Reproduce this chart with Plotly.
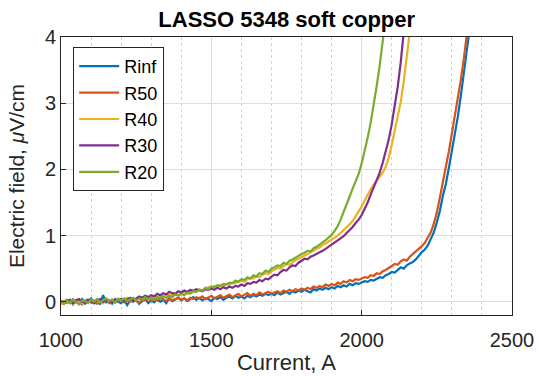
import plotly.graph_objects as go

current = [1000, 1010, 1020, 1030, 1040, 1050, 1060, 1070, 1080, 1090,
           1100, 1110, 1120, 1130, 1140, 1150, 1160, 1170, 1180, 1190,
           1200, 1210, 1220, 1230, 1240, 1250, 1260, 1270, 1280, 1290,
           1300, 1310, 1320, 1330, 1340, 1350, 1360, 1370, 1380, 1390,
           1400, 1410, 1420, 1430, 1440, 1450, 1460, 1470, 1480, 1490,
           1500, 1510, 1520, 1530, 1540, 1550, 1560, 1570, 1580, 1590,
           1600, 1610, 1620, 1630, 1640, 1650, 1660, 1670, 1680, 1690,
           1700, 1710, 1720, 1730, 1740, 1750, 1760, 1770, 1780, 1790,
           1800, 1810, 1820, 1830, 1840, 1850, 1860, 1870, 1880, 1890,
           1900, 1910, 1920, 1930, 1940, 1950, 1960, 1970, 1980, 1990,
           2000, 2010, 2020, 2030, 2040, 2050, 2060, 2070, 2080, 2090,
           2100, 2110, 2120, 2130, 2140, 2150, 2160, 2170, 2180, 2190,
           2200, 2210, 2220, 2230, 2240, 2250, 2260, 2270, 2280, 2290,
           2300, 2310, 2320, 2330, 2340, 2350, 2360]

rinf = [-0.03, 0.01, -0.02, 0.03, -0.04, 0.02, -0.01, 0.04, -0.03, 0.00,
        0.05, -0.02, 0.03, -0.04, 0.10, -0.01, 0.02, -0.03, 0.04, 0.00,
        -0.02, 0.03, -0.05, 0.02, 0.00, 0.04, -0.03, 0.01, 0.05, -0.02,
        0.02, -0.01, 0.04, 0.00, 0.03, -0.02, 0.05, 0.01, 0.03, 0.06,
        0.02, 0.05, 0.01, 0.04, 0.07, 0.03, 0.06, 0.02, 0.05, 0.04,
        0.01, 0.06, 0.04, 0.07, 0.03, 0.06, 0.08, 0.05, 0.09, 0.06,
        0.08, 0.05, 0.09, 0.07, 0.10, 0.08, 0.11, 0.09, 0.12, 0.10,
        0.12, 0.10, 0.14, 0.11, 0.13, 0.15, 0.12, 0.16, 0.14, 0.17,
        0.15, 0.18, 0.16, 0.14, 0.19, 0.17, 0.20, 0.18, 0.21, 0.19,
        0.22, 0.20, 0.24, 0.22, 0.25, 0.23, 0.27, 0.25, 0.28, 0.27,
        0.29, 0.31, 0.30, 0.33, 0.32, 0.35, 0.37, 0.36, 0.40, 0.42,
        0.45, 0.44, 0.48, 0.52, 0.50, 0.55, 0.58, 0.60, 0.64, 0.70,
        0.75, 0.79, 0.85, 0.95, 1.05, 1.20, 1.37, 1.60, 1.78, 2.02,
        2.26, 2.55, 2.80, 3.12, 3.45, 3.80, 4.15]

r50 = [0.02, -0.03, 0.01, -0.02, 0.04, -0.01, 0.00, -0.04, 0.02, 0.03,
       -0.02, 0.01, -0.03, 0.02, 0.00, 0.04, -0.02, 0.03, -0.01, 0.01,
       0.03, -0.01, 0.02, 0.00, 0.04, 0.01, -0.02, 0.03, 0.02, 0.05,
       0.01, 0.04, 0.02, 0.06, 0.03, 0.01, 0.05, 0.02, 0.04, 0.06,
       0.03, 0.05, 0.02, 0.06, 0.04, 0.07, 0.05, 0.08, 0.04, 0.06,
       0.09, 0.05, 0.07, 0.10, 0.06, 0.08, 0.11, 0.07, 0.09, 0.12,
       0.08, 0.10, 0.13, 0.09, 0.12, 0.10, 0.14, 0.11, 0.13, 0.15,
       0.12, 0.14, 0.16, 0.13, 0.17, 0.15, 0.18, 0.16, 0.19, 0.17,
       0.20, 0.18, 0.21, 0.19, 0.23, 0.21, 0.24, 0.22, 0.26, 0.24,
       0.27, 0.25, 0.29, 0.27, 0.31, 0.29, 0.33, 0.31, 0.34, 0.33,
       0.35, 0.37, 0.36, 0.40, 0.39, 0.43, 0.42, 0.46, 0.48, 0.51,
       0.54, 0.57, 0.56, 0.61, 0.64, 0.62, 0.68, 0.72, 0.75, 0.79,
       0.84, 0.89, 0.96, 1.05, 1.18, 1.35, 1.57, 1.78, 2.04, 2.27,
       2.53, 2.80, 3.05, 3.36, 3.68, 4.05]

r40 = [-0.05, 0.02, -0.01, 0.01, -0.03, 0.03, 0.00, -0.02, 0.02, 0.00,
       -0.01, 0.03, 0.00, 0.02, -0.02, 0.04, 0.01, 0.03, 0.00, 0.05,
       0.02, 0.04, 0.06, 0.03, 0.05, 0.02, 0.06, 0.04, 0.08, 0.05,
       0.07, 0.09, 0.06, 0.10, 0.08, 0.12, 0.09, 0.11, 0.13, 0.10,
       0.13, 0.15, 0.12, 0.16, 0.18, 0.15, 0.19, 0.17, 0.20, 0.22,
       0.21, 0.24, 0.22, 0.25, 0.23, 0.27, 0.26, 0.29, 0.28, 0.31,
       0.32, 0.30, 0.34, 0.36, 0.35, 0.39, 0.37, 0.41, 0.43, 0.42,
       0.46, 0.48, 0.51, 0.50, 0.54, 0.57, 0.56, 0.60, 0.63, 0.65,
       0.68, 0.70, 0.72, 0.75, 0.77, 0.80, 0.82, 0.86, 0.88, 0.91,
       0.93, 0.97, 1.00, 1.04, 1.08, 1.12, 1.17, 1.22, 1.29, 1.36,
       1.44, 1.53, 1.62, 1.70, 1.77, 1.83, 1.88, 1.95, 2.04, 2.18,
       2.37, 2.58, 2.78, 3.02, 3.33, 3.68, 4.08]

r30 = [0.01, -0.02, 0.03, 0.00, -0.02, 0.02, 0.04, 0.00, -0.01, 0.03,
       0.01, -0.02, 0.02, 0.04, 0.00, 0.03, 0.01, -0.01, 0.03, 0.02,
       0.04, 0.01, 0.03, 0.06, 0.02, 0.05, 0.08, 0.06, 0.09, 0.07,
       0.10, 0.08, 0.12, 0.10, 0.13, 0.11, 0.15, 0.13, 0.12, 0.16,
       0.14, 0.17, 0.15, 0.18, 0.16, 0.19, 0.17, 0.16, 0.19, 0.18,
       0.20, 0.18, 0.21, 0.19, 0.22, 0.20, 0.23, 0.21, 0.24, 0.23,
       0.26, 0.24, 0.28, 0.27, 0.30, 0.29, 0.33, 0.31, 0.35, 0.34,
       0.38, 0.41, 0.40, 0.45, 0.48, 0.47, 0.52, 0.55, 0.54, 0.59,
       0.62, 0.65, 0.64, 0.68, 0.70, 0.72, 0.74, 0.77, 0.80, 0.83,
       0.86, 0.89, 0.92, 0.96, 0.99, 1.04, 1.08, 1.13, 1.19, 1.24,
       1.31, 1.40, 1.50, 1.62, 1.73, 1.83, 1.95, 2.10, 2.27, 2.45,
       2.68, 2.95, 3.25, 3.62, 4.08]

r20 = [0.00, -0.03, 0.02, -0.02, 0.03, 0.00, -0.04, 0.02, 0.01, -0.02,
       0.03, 0.00, 0.04, -0.01, 0.02, 0.05, 0.01, 0.03, -0.01, 0.04,
       0.02, 0.05, 0.01, 0.04, 0.06, 0.02, 0.05, 0.03, 0.07, 0.04,
       0.06, 0.03, 0.07, 0.05, 0.08, 0.06, 0.09, 0.07, 0.11, 0.09,
       0.12, 0.10, 0.14, 0.12, 0.16, 0.15, 0.18, 0.17, 0.21, 0.19,
       0.23, 0.22, 0.25, 0.24, 0.27, 0.26, 0.29, 0.28, 0.32, 0.30,
       0.34, 0.33, 0.37, 0.35, 0.40, 0.38, 0.43, 0.42, 0.47, 0.45,
       0.50, 0.52, 0.55, 0.54, 0.59, 0.57, 0.62, 0.64, 0.67, 0.69,
       0.72, 0.74, 0.77, 0.76, 0.81, 0.83, 0.86, 0.89, 0.93, 0.97,
       1.01, 1.07, 1.14, 1.24, 1.35, 1.47, 1.59, 1.71, 1.82, 1.93,
       2.09, 2.27, 2.48, 2.71, 2.97, 3.26, 3.57, 3.92, 4.30]

names = ["Rinf", "R50", "R40", "R30", "R20"]
series = [rinf, r50, r40, r30, r20]
colors = ["#0072BD", "#D95319", "#EDB120", "#7E2F8E", "#77AC30"]

FONT = "Arial, Liberation Sans, Helvetica, sans-serif"
INK = "#262626"

fig = go.Figure()
for name, vals, col in zip(names, series, colors):
    fig.add_trace(go.Scatter(
        x=current[:len(vals)], y=vals, mode="lines", name=name,
        line=dict(color=col, width=2.2),
    ))

fig.update_layout(
    width=541, height=376,
    margin=dict(l=61, r=29, t=37, b=61),
    paper_bgcolor="white", plot_bgcolor="white",
    font=dict(family=FONT, color=INK, size=20),
    title=dict(text="<b>LASSO 5348 soft copper</b>", x=0.53, xanchor="center",
               y=0.948, yanchor="middle", font=dict(size=22, color="black")),
    showlegend=True,
    legend=dict(x=0.027, y=0.964, xanchor="left", yanchor="top",
                bgcolor="white", bordercolor=INK, borderwidth=1,
                font=dict(size=18, color="black"), tracegroupgap=0,
                itemwidth=40),
)

fig.update_xaxes(
    range=[1000, 2500], tickvals=[1000, 1500, 2000, 2500],
    showline=True, linecolor=INK, linewidth=1, mirror=True,
    ticks="inside", ticklen=5, tickcolor=INK, ticklabelstandoff=7,
    showgrid=True, gridcolor="#DDDDDD", gridwidth=1, zeroline=False,
    minor=dict(dtick=100, showgrid=True, gridcolor="#D0D0D0",
               griddash="dot", gridwidth=1),
    title=dict(text="Current, A", font=dict(size=22), standoff=4),
    tickfont=dict(size=20), automargin=False,
)
fig.update_yaxes(
    range=[-0.2, 4], tickvals=[0, 1, 2, 3, 4],
    showline=True, linecolor=INK, linewidth=1, mirror=True,
    ticks="inside", ticklen=5, tickcolor=INK,
    showgrid=True, gridcolor="#DDDDDD", gridwidth=1, zeroline=False,
    title=dict(text="Electric field, <i>μ</i>V/cm", font=dict(size=21), standoff=14),
    tickfont=dict(size=20), automargin=False,
)

fig.write_html("out.html")
